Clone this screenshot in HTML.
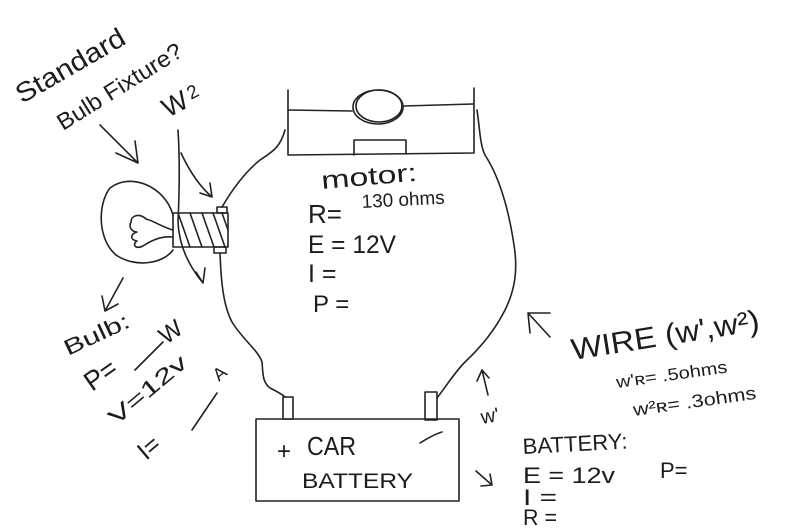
<!DOCTYPE html>
<html><head><meta charset="utf-8"><style>
html,body{margin:0;padding:0;background:#fff;}
svg{display:block;}
text{font-family:"Liberation Sans",sans-serif;fill:#1c1c1c;}
</style></head><body>
<svg width="800" height="530" viewBox="0 0 800 530" xmlns="http://www.w3.org/2000/svg">
<rect width="800" height="530" fill="#fff"/>
<g fill="none" stroke="#222" stroke-width="1.6" stroke-linecap="round" stroke-linejoin="round">
<path d="M100,125 L138,163 M116,153 L138,163 L135,141"/>
<path d="M173,215 C165,186 130,172 110,188 C97,205 98,240 116,255 C135,268 163,264 173,250"/>
<path d="M173,230 C162,227 152,220 146,219 C140,213 131,215 131,222 C128,228 133,232 137,232 C130,234 130,240 137,241 C132,244 135,250 143,246 C152,240 162,236 172,237"/>
<rect x="173" y="213" width="55" height="34"/>
<path d="M178,213 L190,247 M190,213 L202,247 M202,213 L214,247 M213,213 L225,247 M222,213 L228,230"/>
<rect x="217" y="207" width="10" height="6"/>
<rect x="214" y="247" width="12" height="6"/>
<path d="M178,130 C180,160 179,200 178,222 C179,245 188,265 203,283 M196,272 L203,283 L205,268"/>
<path d="M181,153 C188,168 198,185 212,197 M200,193 L212,197 L210,183"/>
<path d="M222,207 C232,190 245,172 260,160 C272,152 280,148 285,130"/>
<path d="M220,253 C221,280 223,305 232,322 C243,340 258,350 262,362 C263,372 262,382 270,388 C278,392 283,395 285,397"/>
<path d="M288,90 L288,155 L474,153 L474,88"/>
<path d="M288,110 L352,111 M404,106 L473,104"/>
<ellipse cx="378" cy="107" rx="25" ry="17"/>
<ellipse cx="379" cy="106" rx="23" ry="16"/>
<path d="M354,155 L354,140 L406,140 L406,154"/>
<path d="M477,110 C480,130 480,145 485,155 C498,175 508,205 514,245 C518,270 515,290 505,310 C495,330 480,348 465,362 C455,372 447,385 437,398"/>
<rect x="256" y="419" width="203" height="82"/>
<rect x="283" y="397" width="10" height="22"/>
<rect x="425" y="392" width="12" height="28"/>
<path d="M420,443 C428,438 435,434 442,432"/>
<path d="M123,278 L105,311 M102,296 L105,311 L118,304"/>
<path d="M135,370 L163,342 M192,430 L217,393"/>
<path d="M528,313 L550,337 M528,313 L530,333 M528,313 L550,313"/>
<path d="M488,395 L482,370 M477,381 L482,370 L489,378"/>
<path d="M476,471 L492,485 M481,486 L492,485 L490,474"/>
</g>
<text transform="translate(22,104) rotate(-30)" font-size="27" textLength="122" lengthAdjust="spacingAndGlyphs">Standard</text>
<text transform="translate(63,131) rotate(-32)" font-size="23" textLength="143" lengthAdjust="spacingAndGlyphs">Bulb Fixture?</text>
<text transform="translate(168,118) rotate(-28)" font-size="27">W</text>
<text transform="translate(191,100) rotate(-28)" font-size="19">2</text>

<text transform="translate(322,189) rotate(-5)" font-size="25" textLength="96" lengthAdjust="spacingAndGlyphs">motor:</text>
<text x="308" y="223" font-size="26">R=</text>
<text transform="translate(362,208) rotate(-3)" font-size="19" textLength="83" lengthAdjust="spacingAndGlyphs">130 ohms</text>
<text x="308" y="253" font-size="25" textLength="88" lengthAdjust="spacingAndGlyphs">E = 12V</text>
<text x="308" y="282" font-size="25">I =</text>
<text x="313" y="312" font-size="24">P =</text>

<text transform="translate(68,356) rotate(-25)" font-size="22" textLength="70" lengthAdjust="spacingAndGlyphs">Bulb:</text>
<text transform="translate(92,392) rotate(-35)" font-size="27">P=</text>
<text transform="translate(166,345) rotate(-35)" font-size="24">W</text>
<text transform="translate(116,426) rotate(-40)" font-size="22" textLength="95" lengthAdjust="spacingAndGlyphs">V=12v</text>
<text transform="translate(146,461) rotate(-40)" font-size="25">I=</text>
<text transform="translate(219,382) rotate(-40)" font-size="18">A</text>

<text x="277" y="459" font-size="24">+</text>
<text x="307" y="455" font-size="26" textLength="49" lengthAdjust="spacingAndGlyphs">CAR</text>
<text x="302" y="488" font-size="21" textLength="111" lengthAdjust="spacingAndGlyphs">BATTERY</text>

<text transform="translate(482,424) rotate(-10)" font-size="20">w'</text>

<text transform="translate(573,360) rotate(-9)" font-size="30" textLength="190" lengthAdjust="spacingAndGlyphs">WIRE (w',w²)</text>
<text transform="translate(617,388) rotate(-8)" font-size="17" textLength="112" lengthAdjust="spacingAndGlyphs">w'ʀ= .5ohms</text>
<text transform="translate(634,416) rotate(-8)" font-size="18" textLength="124" lengthAdjust="spacingAndGlyphs">w²ʀ= .3ohms</text>

<text transform="translate(523,454) rotate(-3)" font-size="22" textLength="105" lengthAdjust="spacingAndGlyphs">BATTERY:</text>
<text x="523" y="483" font-size="22" textLength="92" lengthAdjust="spacingAndGlyphs">E = 12v</text>
<text x="660" y="478" font-size="22">P=</text>
<text x="523" y="505" font-size="22" textLength="34" lengthAdjust="spacingAndGlyphs">I =</text>
<text x="523" y="525" font-size="22" textLength="34" lengthAdjust="spacingAndGlyphs">R =</text>
</svg>
</body></html>
